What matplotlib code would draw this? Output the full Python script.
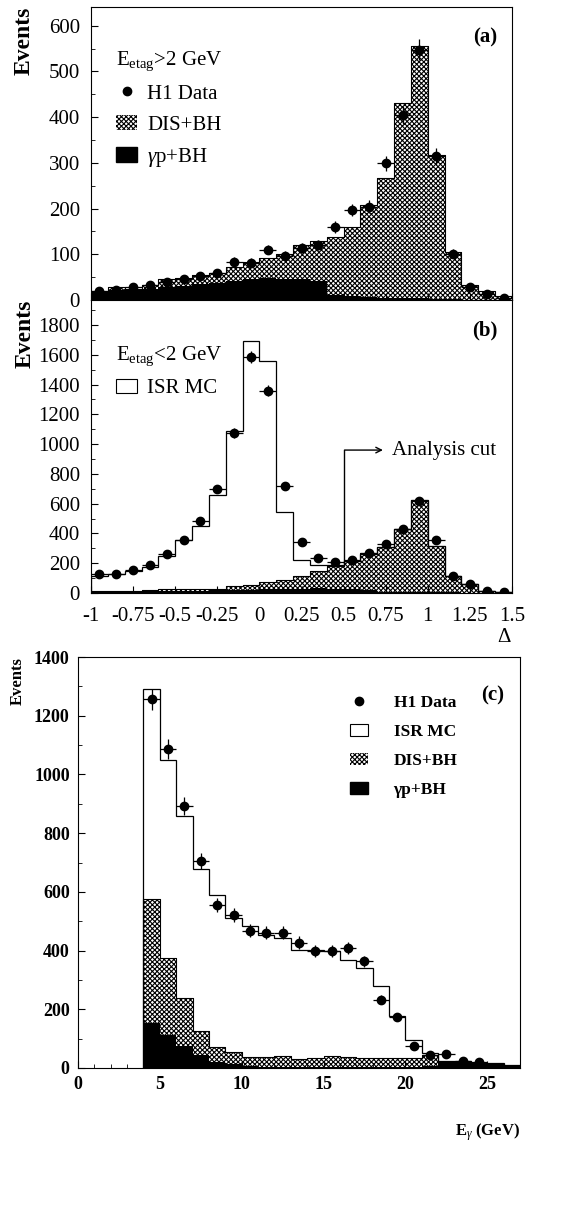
import numpy as np
import matplotlib
matplotlib.use("Agg")
from matplotlib import pyplot as plt
from matplotlib.patches import Patch
from matplotlib.lines import Line2D
from matplotlib.ticker import MultipleLocator

plt.rcParams['font.family'] = ['Liberation Serif', 'DejaVu Serif']
plt.rcParams['mathtext.fontset'] = 'custom'
plt.rcParams['mathtext.rm'] = 'Liberation Serif'
plt.rcParams['mathtext.it'] = 'Liberation Serif:italic'
plt.rcParams['mathtext.bf'] = 'Liberation Serif:bold'
plt.rcParams['hatch.linewidth'] = 0.8

# ---- panel (a): E_etag > 2 GeV, 25 bins in Delta from -1 to 1.5
a_data = [20, 22, 28, 32, 40, 45, 52, 58, 84, 82, 110, 97, 113, 120, 160, 197, 204,
          299, 405, 547, 314, 101, 29, 13, 5]
a_err = [4, 5, 5, 6, 6, 7, 7, 8, 9, 9, 10, 10, 11, 11, 13, 14, 14, 17, 20, 23, 18, 10, 5, 4, 2]
a_dis = [20, 29, 25, 33, 47, 48, 55, 60, 73, 84, 91, 100, 120, 130, 137, 160, 208,
         266, 432, 556, 317, 104, 33, 20, 8]
a_gp = [20, 20, 22, 25, 28, 30, 35, 38, 42, 45, 48, 46, 45, 42, 10, 8, 6, 5, 4, 4, 3, 2, 1, 1, 1]

# ---- panel (b): E_etag < 2 GeV
b_data = [130, 130, 152, 186, 264, 358, 481, 698, 1074, 1584, 1360, 716, 340, 235, 208,
          224, 268, 331, 432, 620, 358, 116, 63, 15, 5]
b_err = [11, 11, 12, 14, 16, 19, 22, 26, 33, 40, 37, 27, 18, 15, 14, 15, 16, 18, 21, 25,
         19, 11, 8, 4, 2]
b_isr = [115, 125, 145, 175, 250, 355, 450, 660, 1090, 1690, 1560, 545, 225, 190, 185,
         212, 265, 310, 430, 625, 318, 112, 60, 15, 5]
b_dis = [15, 15, 15, 18, 25, 25, 28, 30, 45, 55, 75, 85, 115, 145, 178, 212, 266, 309,
         430, 626, 318, 112, 60, 15, 5]
b_gp = [12, 12, 12, 12, 14, 15, 16, 18, 20, 22, 24, 26, 30, 32, 30, 25, 18, 10, 8, 6, 5,
        4, 3, 2, 2]

# ---- panel (c): photon energy, 1 GeV bins from 4 to 27
c_data = [1256, 1086, 892, 706, 556, 522, 467, 461, 461, 427, 399, 399, 410, 363, 232,
          173, 74, 45, 49, 23, 20]
c_err = [35, 33, 30, 27, 24, 23, 22, 21, 21, 21, 20, 20, 20, 19, 15, 13, 9, 7, 7, 5, 4]
c_isr = [1290, 1049, 858, 677, 590, 510, 484, 453, 442, 402, 402, 397, 368, 340, 278,
         178, 96, 51, 25, 23, 17, 17, 10]
c_dis = [575, 374, 240, 127, 70, 53, 37, 37, 40, 30, 35, 42, 38, 35, 33, 33, 35, 45, 22,
         20, 15, 12, 5]
c_gp = [153, 112, 74, 45, 20, 15, 8, 5, 5, 5, 5, 5, 5, 5, 5, 5, 5, 8, 20, 18, 15, 12, 8]

d_edges = np.linspace(-1, 1.5, 26)
d_cent = 0.5 * (d_edges[:-1] + d_edges[1:])
e_edges = np.arange(4, 28, 1.0)
e_cent = 0.5 * (e_edges[:-1] + e_edges[1:])[:len(c_data)]

hatch = 'xxxxxxx'
W, H = 578, 1224
fig = plt.figure(figsize=(W / 100, H / 100), dpi=100)

def px_axes(l, t, r, b):
    return fig.add_axes([l / W, 1 - b / H, (r - l) / W, (b - t) / H])

ax_a = px_axes(91, 7, 512, 300)
ax_b = px_axes(91, 300, 512, 593)
ax_c = px_axes(78, 657, 520, 1068)

def draw_bkg(ax, edges, dis, gp):
    ax.stairs(dis, edges, fill=True, facecolor='white', edgecolor='black', hatch=hatch,
              linewidth=0.6)
    ax.stairs(dis, edges, color='black', linewidth=0.8)
    ax.stairs(gp, edges, fill=True, color='black', linewidth=0)

# (a)
draw_bkg(ax_a, d_edges, a_dis, a_gp)
ax_a.errorbar(d_cent, a_data, yerr=a_err, xerr=0.05, fmt='o', color='black', ms=6,
              elinewidth=0.9, capsize=0)
ax_a.set_xlim(-1, 1.5)
ax_a.set_ylim(0, 641)
ax_a.yaxis.set_major_locator(MultipleLocator(100))
ax_a.yaxis.set_minor_locator(MultipleLocator(50))
ax_a.set_xticks(np.arange(-1, 1.51, 0.25))
ax_a.tick_params(labelbottom=False)
ax_a.set_ylabel('Events', fontsize=17, fontweight='bold', loc='top', labelpad=10)
ax_a.text(0.965, 0.93, '(a)', transform=ax_a.transAxes, ha='right', va='top',
          fontsize=15, fontweight='bold')
h_data = Line2D([], [], marker='o', color='black', ls='none', ms=6)
h_dis = Patch(facecolor='white', edgecolor='black', hatch=hatch, linewidth=0)
h_gp = Patch(facecolor='black', edgecolor='black')
h_isr = Patch(facecolor='white', edgecolor='black', linewidth=0.8)
ax_a.legend([h_data, h_dis, h_gp], ['H1 Data', 'DIS+BH', r'$\gamma$p+BH'],
            title=r'$\mathrm{E_{etag}}$>2 GeV', alignment='left', loc='upper left',
            bbox_to_anchor=(0.04, 0.885), frameon=False, fontsize=15,
            title_fontsize=15, handlelength=1.0, handletextpad=0.5,
            labelspacing=0.55, borderaxespad=0)

# (b)
draw_bkg(ax_b, d_edges, b_dis, b_gp)
ax_b.stairs(b_isr, d_edges, color='black', linewidth=0.9)
ax_b.errorbar(d_cent, b_data, yerr=b_err, xerr=0.05, fmt='o', color='black', ms=6,
              elinewidth=0.9, capsize=0)
ax_b.set_xlim(-1, 1.5)
ax_b.set_ylim(0, 1968)
ax_b.yaxis.set_major_locator(MultipleLocator(200))
ax_b.yaxis.set_minor_locator(MultipleLocator(100))
ax_b.set_xticks(np.arange(-1, 1.51, 0.25))
ax_b.set_xticklabels(['-1', '-0.75', '-0.5', '-0.25', '0', '0.25', '0.5', '0.75', '1',
                      '1.25', '1.5'])
ax_b.set_ylabel('Events', fontsize=17, fontweight='bold', loc='top', labelpad=2)
ax_b.text(0.965, 0.93, '(b)', transform=ax_b.transAxes, ha='right', va='top',
          fontsize=15, fontweight='bold')
ax_b.text(1.0, -0.12, r'$\Delta$', transform=ax_b.transAxes, ha='right', va='top',
          fontsize=15)
ax_b.plot([0.5, 0.5], [200, 960], color='black', lw=1)
ax_b.annotate('', xy=(0.75, 960), xytext=(0.49, 960),
              arrowprops=dict(arrowstyle='->', color='black', lw=1))
ax_b.text(0.79, 960, 'Analysis cut', fontsize=15, va='center', ha='left')
ax_b.legend([h_isr], ['ISR MC'], title=r'$\mathrm{E_{etag}}$<2 GeV', alignment='left',
            loc='upper left', bbox_to_anchor=(0.04, 0.875), frameon=False, fontsize=15,
            title_fontsize=15, handlelength=1.0, handletextpad=0.5, borderaxespad=0)

# (c)
draw_bkg(ax_c, e_edges, c_dis, c_gp)
ax_c.stairs(c_isr, e_edges, color='black', linewidth=0.9)
ax_c.errorbar(e_cent, c_data, yerr=c_err, xerr=0.5, fmt='o', color='black', ms=6,
              elinewidth=0.9, capsize=0)
ax_c.set_xlim(0, 27)
ax_c.set_ylim(0, 1400)
ax_c.xaxis.set_major_locator(MultipleLocator(5))
ax_c.xaxis.set_minor_locator(MultipleLocator(1))
ax_c.yaxis.set_major_locator(MultipleLocator(200))
ax_c.yaxis.set_minor_locator(MultipleLocator(100))
for lab in ax_c.get_xticklabels() + ax_c.get_yticklabels():
    lab.set_fontweight('bold')
    lab.set_fontsize(13)
ax_c.set_ylabel('Events', fontsize=12, fontweight='bold', loc='top', labelpad=6)
ax_c.text(0.965, 0.93, '(c)', transform=ax_c.transAxes, ha='right', va='top',
          fontsize=15, fontweight='bold')
ax_c.text(1.0, -0.13, r'$\mathbf{E}_{\gamma}$ (GeV)', transform=ax_c.transAxes,
          ha='right', va='top', fontsize=12, fontweight='bold')
ax_c.legend([h_data, h_isr, h_dis, h_gp], ['H1 Data', 'ISR MC', 'DIS+BH', 'γp+BH'],
            loc='upper left', bbox_to_anchor=(0.6, 0.925), frameon=False,
            prop={'size': 12.5, 'weight': 'bold'}, handlelength=1.0, handletextpad=1.5,
            labelspacing=0.75, borderaxespad=0)

for ax in (ax_a, ax_b, ax_c):
    for s in ax.spines.values():
        s.set_linewidth(0.8)
    ax.tick_params(which='both', direction='in', top=False, right=False)
    ax.tick_params(which='major', length=5)
    ax.tick_params(which='minor', length=3)
ax_a.tick_params(labelsize=15, pad=8)
ax_b.tick_params(axis='y', labelsize=15, pad=8)
ax_b.tick_params(axis='x', labelsize=15, pad=10)
ax_c.tick_params(pad=6)

fig.savefig('out.png', dpi=100)
